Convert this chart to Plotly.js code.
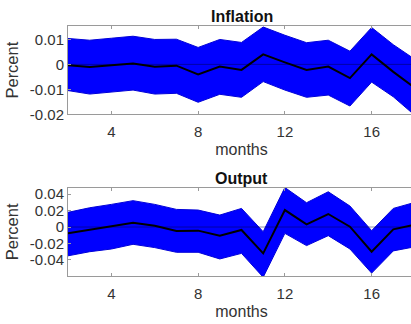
<!DOCTYPE html>
<html>
<head>
<meta charset="utf-8">
<script src="https://cdn.plot.ly/plotly-3.0.1.min.js"></script>
<style>
  html, body { margin: 0; padding: 0; overflow: hidden; background: #fff; }
  #chart { width: 430px; height: 324px; }
</style>
</head>
<body>
<div id="chart"></div>
<script>
// Impulse responses over months 2..18: median and confidence band
const months = [2, 3, 4, 5, 6, 7, 8, 9, 10, 11, 12, 13, 14, 15, 16, 17, 18];

const inflationMid   = [-0.0003, -0.0010, -0.0003, 0.0004, -0.0009, -0.0005, -0.0040, -0.0009, -0.0022, 0.0040, 0.0008, -0.0022, -0.0009, -0.0055, 0.0040, -0.0030, -0.0095];
const inflationUpper = [0.0104, 0.0097, 0.0105, 0.0113, 0.0100, 0.0101, 0.0068, 0.0100, 0.0088, 0.0150, 0.0117, 0.0087, 0.0097, 0.0053, 0.0148, 0.0079, 0.0020];
const inflationLower = [-0.0105, -0.0119, -0.0110, -0.0103, -0.0119, -0.0116, -0.0152, -0.0120, -0.0132, -0.0069, -0.0103, -0.0132, -0.0123, -0.0167, -0.0071, -0.0130, -0.0205];

const outputMid   = [-0.0077, -0.0036, 0.0004, 0.0053, 0.0016, -0.0048, -0.0044, -0.0105, -0.0036, -0.0320, 0.0206, 0.0032, 0.0158, 0.0004, -0.0300, -0.0028, 0.0030];
const outputUpper = [0.0178, 0.0234, 0.0275, 0.0320, 0.0275, 0.0214, 0.0206, 0.0145, 0.0226, -0.0057, 0.0480, 0.0295, 0.0428, 0.0255, -0.0044, 0.0226, 0.0300];
const outputLower = [-0.0350, -0.0300, -0.0267, -0.0210, -0.0250, -0.0307, -0.0307, -0.0388, -0.0320, -0.0610, -0.0077, -0.0226, -0.0105, -0.0267, -0.0560, -0.0290, -0.0240];

const xTicks = [4, 8, 12, 16];
const inflationTicks = [-0.02, -0.01, 0, 0.01];
const inflationTickText = ['-0.02', '-0.01', '0', '0.01'];
const outputTicks = [-0.04, -0.02, 0, 0.02, 0.04];
const outputTickText = ['-0.04', '-0.02', '0', '0.02', '0.04'];

const FONT = '"Liberation Sans", Arial, Helvetica, sans-serif';
const BLUE = '#0000ff';

function panel(mid, upper, lower, xa, ya) {
  const bandX = months.concat(months.slice().reverse());
  const bandY = upper.concat(lower.slice().reverse());
  return [
    { x: bandX, y: bandY, xaxis: xa, yaxis: ya, type: 'scatter', mode: 'lines',
      fill: 'toself', fillcolor: BLUE, line: { color: '#0000d8', width: 1 },
      hoverinfo: 'skip', showlegend: false },
    { x: [months[0], months[months.length - 1]], y: [0, 0], xaxis: xa, yaxis: ya,
      type: 'scatter', mode: 'lines', line: { color: 'rgba(0,0,60,0.45)', width: 1 },
      hoverinfo: 'skip', showlegend: false },
    { x: months, y: mid, xaxis: xa, yaxis: ya, type: 'scatter', mode: 'lines',
      line: { color: '#000000', width: 2 }, showlegend: false }
  ];
}

const data = []
  .concat(panel(inflationMid, inflationUpper, inflationLower, 'x', 'y'))
  .concat(panel(outputMid, outputUpper, outputLower, 'x2', 'y2'));

const axisCommon = {
  showline: true, mirror: 'ticks', linecolor: '#9a9a9a', linewidth: 1,
  ticks: 'inside', ticklen: 3, tickcolor: '#9a9a9a',
  showgrid: false, zeroline: false,
  tickfont: { family: FONT, size: 15, color: '#333333' }
};

function xAxis(anchor) {
  return Object.assign({}, axisCommon, {
    anchor: anchor, range: [2, 18], tickvals: xTicks, ticktext: xTicks.map(String),
    ticklabelstandoff: 4,
    title: { text: 'months', standoff: 4, font: { family: FONT, size: 16, color: '#333333' } }
  });
}

function yAxis(anchor, domain, range, vals, text) {
  return Object.assign({}, axisCommon, {
    anchor: anchor, domain: domain, range: range, tickvals: vals, ticktext: text,
    title: { text: 'Percent', standoff: 7, font: { family: FONT, size: 16.5, color: '#333333' } }
  });
}

const layout = {
  width: 430, height: 324,
  margin: { l: 68, r: 15, t: 26, b: 48 },
  paper_bgcolor: '#ffffff', plot_bgcolor: '#ffffff',
  xaxis: xAxis('y'),
  xaxis2: xAxis('y2'),
  yaxis: yAxis('x', [0.647, 1], [-0.02, 0.0154], inflationTicks, inflationTickText),
  yaxis2: yAxis('x2', [0, 0.353], [-0.0595, 0.0477], outputTicks, outputTickText),
  annotations: [
    { text: '<b>Inflation</b>', xref: 'paper', yref: 'paper', x: 0.5, y: 1, yshift: -1,
      xanchor: 'center', yanchor: 'bottom', showarrow: false,
      font: { family: FONT, size: 16, color: '#111' } },
    { text: '<b>Output</b>', xref: 'paper', yref: 'paper', x: 0.5, y: 0.353, yshift: -1,
      xanchor: 'center', yanchor: 'bottom', showarrow: false,
      font: { family: FONT, size: 16, color: '#111' } }
  ]
};

Plotly.newPlot('chart', data, layout, { displayModeBar: false, staticPlot: true });
</script>
</body>
</html>
